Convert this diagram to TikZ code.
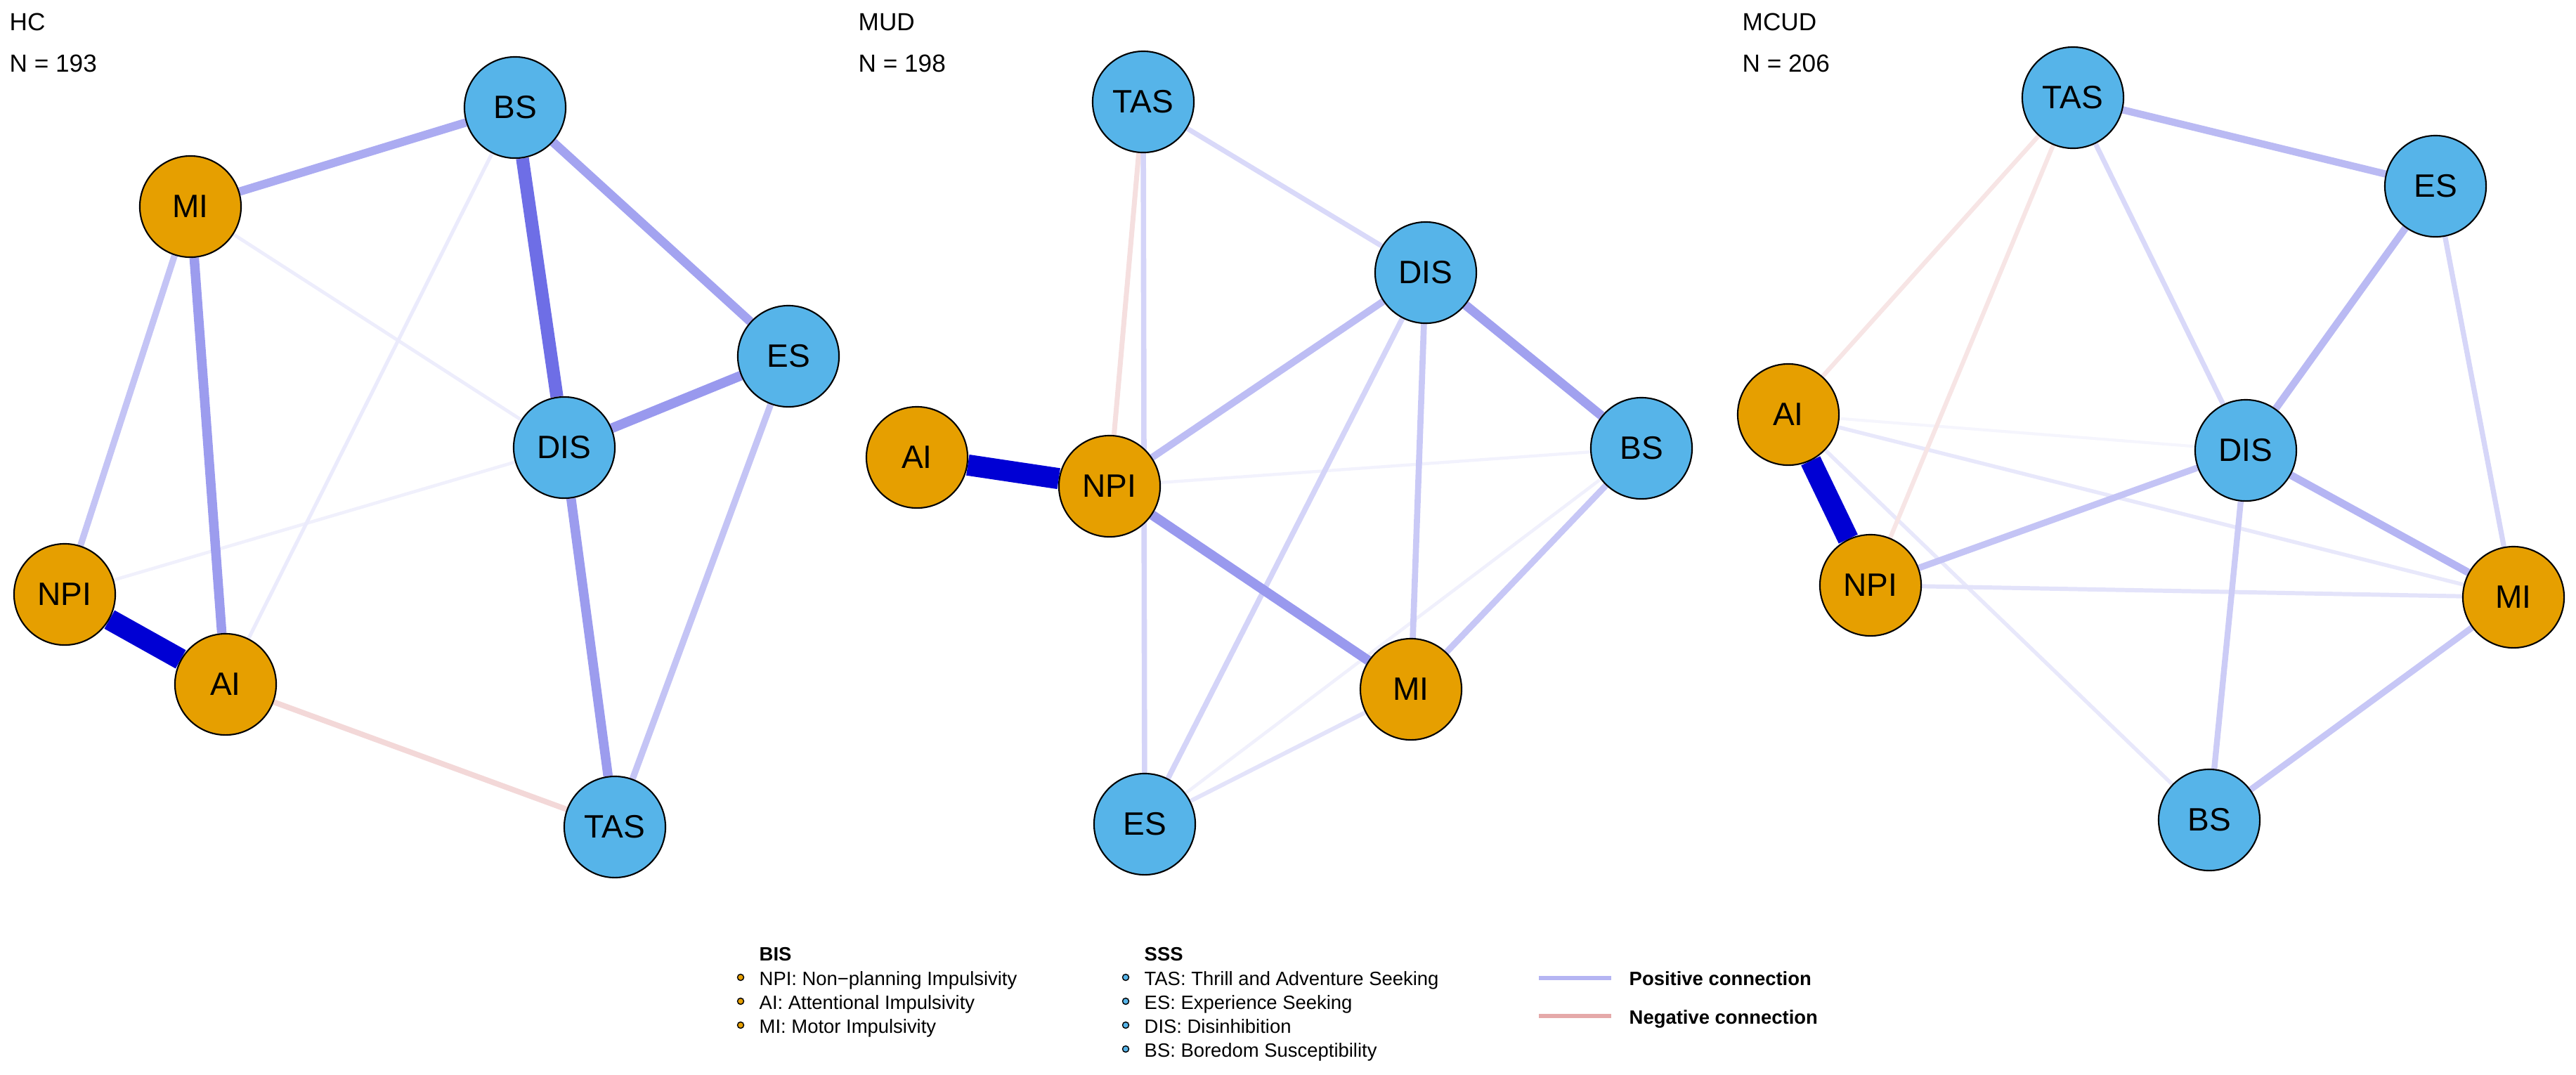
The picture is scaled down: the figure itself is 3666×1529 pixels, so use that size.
\documentclass[tikz,border=0pt]{standalone}
\usepackage{fontspec}
\setmainfont{Liberation Sans}
\usetikzlibrary{backgrounds}

\definecolor{biscol}{RGB}{230,159,0}
\definecolor{ssscol}{RGB}{86,180,233}
\definecolor{poscol}{RGB}{0,0,212}
\definecolor{negcol}{RGB}{190,40,40}

\begin{document}
\begin{tikzpicture}[x=0.01cm,y=-0.01cm,
    net node/.style={circle,draw=black,line width=0.6pt,minimum size=1.44cm,inner sep=0pt,
                     font=\fontsize{13.1}{15}\selectfont},
    bis node/.style={net node,fill=biscol},
    sss node/.style={net node,fill=ssscol},
    posedge/.style={draw=poscol!#1!white,line width={0.2845pt*(3+0.27*#1)}},
    negedge/.style={draw=negcol!#1!white,line width={0.2845pt*(3+0.27*#1)}},
    panel title/.style={anchor=base west,inner sep=0pt,font=\fontsize{10}{12}\selectfont},
    legend head/.style={anchor=base west,inner sep=0pt,font=\fontsize{7.8}{9}\selectfont\bfseries},
    legend item/.style={anchor=base west,inner sep=0pt,font=\fontsize{7.8}{9}\selectfont},
    legend dot/.style={circle,draw=black,line width=0.4pt,minimum size=0.09cm,inner sep=0pt}]
  \useasboundingbox (0,0) rectangle (3666,1529);

  % HC
  \node[panel title] (hcT) at (13,43) {HC};
  \node[panel title] (hcN) at (13,102) {N = 193};
  \node[sss node] (hBS)  at (733,153)  {BS};
  \node[bis node] (hMI)  at (271,294)  {MI};
  \node[sss node] (hES)  at (1122,507) {ES};
  \node[sss node] (hDIS) at (803,637)  {DIS};
  \node[bis node] (hNPI) at (92,846)   {NPI};
  \node[bis node] (hAI)  at (321,974)  {AI};
  \node[sss node] (hTAS) at (875,1177) {TAS};

  % MUD
  \node[panel title] (mudT) at (1221,43) {MUD};
  \node[panel title] (mudN) at (1221,102) {N = 198};
  \node[sss node] (mTAS) at (1627,145)  {TAS};
  \node[sss node] (mDIS) at (2029,388)  {DIS};
  \node[bis node] (mAI)  at (1305,651)  {AI};
  \node[bis node] (mNPI) at (1579,692)  {NPI};
  \node[sss node] (mBS)  at (2336,638)  {BS};
  \node[bis node] (mMI)  at (2008,981)  {MI};
  \node[sss node] (mES)  at (1629,1173) {ES};

  % MCUD
  \node[panel title] (mcudT) at (2479,43) {MCUD};
  \node[panel title] (mcudN) at (2479,102) {N = 206};
  \node[sss node] (cTAS) at (2950,139)  {TAS};
  \node[sss node] (cES)  at (3466,265)  {ES};
  \node[bis node] (cAI)  at (2545,590)  {AI};
  \node[sss node] (cDIS) at (3196,641)  {DIS};
  \node[bis node] (cNPI) at (2662,833)  {NPI};
  \node[bis node] (cMI)  at (3577,850)  {MI};
  \node[sss node] (cBS)  at (3144,1167) {BS};

  \begin{scope}[on background layer]
    \path
      (hNPI) edge [posedge=6]   (hDIS)
      (hMI)  edge [posedge=7]   (hDIS)
      (hBS)  edge [posedge=8]   (hAI)
      (hAI)  edge [negedge=18]  (hTAS)
      (hMI)  edge [posedge=23]  (hNPI)
      (hES)  edge [posedge=23]  (hTAS)
      (hMI)  edge [posedge=33]  (hBS)
      (hBS)  edge [posedge=36]  (hES)
      (hMI)  edge [posedge=39]  (hAI)
      (hDIS) edge [posedge=39]  (hTAS)
      (hDIS) edge [posedge=40]  (hES)
      (hBS)  edge [posedge=57]  (hDIS)
      (hNPI) edge [posedge=100] (hAI);
    \path
      (mNPI) edge [posedge=5]   (mBS)
      (mBS)  edge [posedge=6]   (mES)
      (mMI)  edge [posedge=11]  (mES)
      (mTAS) edge [negedge=15]  (mNPI)
      (mTAS) edge [posedge=15]  (mDIS)
      (mTAS) edge [posedge=17]  (mES)
      (mDIS) edge [posedge=17]  (mES)
      (mDIS) edge [posedge=21]  (mMI)
      (mBS)  edge [posedge=22]  (mMI)
      (mNPI) edge [posedge=26]  (mDIS)
      (mDIS) edge [posedge=37]  (mBS)
      (mNPI) edge [posedge=40]  (mMI)
      (mAI)  edge [posedge=100] (mNPI);
    \path
      (cAI)  edge [posedge=4]   (cDIS)
      (cAI)  edge [posedge=9]   (cMI)
      (cAI)  edge [posedge=9]   (cBS)
      (cNPI) edge [posedge=11]  (cMI)
      (cAI)  edge [negedge=12]  (cTAS)
      (cNPI) edge [negedge=12]  (cTAS)
      (cTAS) edge [posedge=15]  (cDIS)
      (cES)  edge [posedge=16]  (cMI)
      (cDIS) edge [posedge=20]  (cBS)
      (cMI)  edge [posedge=22]  (cBS)
      (cNPI) edge [posedge=23]  (cDIS)
      (cTAS) edge [posedge=27]  (cES)
      (cES)  edge [posedge=27]  (cDIS)
      (cDIS) edge [posedge=29]  (cMI)
      (cAI)  edge [posedge=100] (cNPI);
  \end{scope}

  % legend
  \node[legend head] (bisH) at (1080,1367) {BIS};
  \node[legend dot,fill=biscol] (bisD1) at (1054,1391) {};
  \node[legend item] (bis1) at (1080,1402) {NPI: Non−planning Impulsivity};
  \node[legend dot,fill=biscol] (bisD2) at (1054,1425) {};
  \node[legend item] (bis2) at (1080,1436) {AI: Attentional Impulsivity};
  \node[legend dot,fill=biscol] (bisD3) at (1054,1459) {};
  \node[legend item] (bis3) at (1080,1470) {MI: Motor Impulsivity};

  \node[legend head] (sssH) at (1628,1367) {SSS};
  \node[legend dot,fill=ssscol] (sssD1) at (1602,1391) {};
  \node[legend item] (sss1) at (1628,1402) {TAS: Thrill and Adventure Seeking};
  \node[legend dot,fill=ssscol] (sssD2) at (1602,1425) {};
  \node[legend item] (sss2) at (1628,1436) {ES: Experience Seeking};
  \node[legend dot,fill=ssscol] (sssD3) at (1602,1459) {};
  \node[legend item] (sss3) at (1628,1470) {DIS: Disinhibition};
  \node[legend dot,fill=ssscol] (sssD4) at (1602,1493) {};
  \node[legend item] (sss4) at (1628,1504) {BS: Boredom Susceptibility};

  \coordinate (posA) at (2190,1392);
  \coordinate (posB) at (2293,1392);
  \coordinate (negA) at (2190,1446);
  \coordinate (negB) at (2293,1446);
  \draw[draw=poscol!29!white,line width=1.7pt] (posA) -- (posB);
  \draw[draw=negcol!40!white,line width=1.7pt] (negA) -- (negB);
  \node[legend head] (posL) at (2318,1402) {Positive connection};
  \node[legend head] (negL) at (2318,1457) {Negative connection};
\end{tikzpicture}
\end{document}
